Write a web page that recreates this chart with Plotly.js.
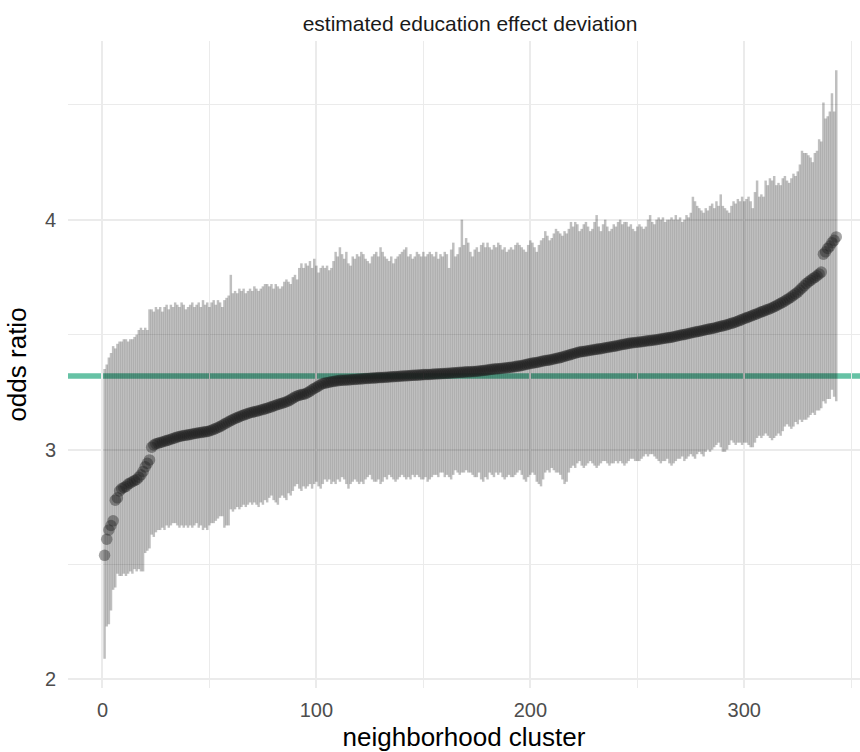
<!DOCTYPE html>
<html>
<head>
<meta charset="utf-8">
<script src="https://cdn.plot.ly/plotly-3.0.1.min.js"></script>
<style>
  html, body { margin: 0; padding: 0; background: #ffffff; }
  #plot { width: 860px; height: 752px; }
</style>
</head>
<body>
<div id="plot"></div>
<script>

// posterior median odds ratio per neighborhood cluster (sorted)
const median_or = [
  2.54,2.61,2.65,2.67,2.69,2.78,2.79,2.82,2.83,2.835,
  2.84,2.85,2.855,2.86,2.865,2.87,2.88,2.89,2.905,2.925,
  2.94,2.955,3.01,3.02,3.025,3.028,3.031,3.033,3.036,3.039,
  3.042,3.045,3.048,3.051,3.055,3.057,3.059,3.061,3.062,3.064,
  3.066,3.068,3.070,3.071,3.073,3.074,3.076,3.077,3.079,3.081,
  3.084,3.088,3.092,3.096,3.100,3.106,3.111,3.116,3.121,3.126,
  3.131,3.135,3.139,3.143,3.147,3.150,3.154,3.157,3.160,3.162,
  3.165,3.167,3.169,3.172,3.174,3.177,3.180,3.183,3.186,3.190,
  3.193,3.196,3.199,3.202,3.205,3.208,3.212,3.217,3.223,3.229,
  3.233,3.236,3.239,3.241,3.243,3.248,3.254,3.260,3.266,3.271,
  3.277,3.282,3.287,3.289,3.291,3.293,3.295,3.296,3.298,3.299,
  3.301,3.302,3.302,3.303,3.303,3.304,3.305,3.305,3.306,3.307,
  3.307,3.308,3.309,3.309,3.310,3.311,3.311,3.312,3.313,3.313,
  3.314,3.315,3.315,3.316,3.317,3.317,3.318,3.318,3.319,3.320,
  3.320,3.321,3.321,3.322,3.323,3.323,3.324,3.324,3.325,3.326,
  3.326,3.327,3.327,3.328,3.329,3.329,3.330,3.330,3.331,3.331,
  3.332,3.332,3.333,3.334,3.334,3.335,3.336,3.336,3.337,3.338,
  3.338,3.339,3.340,3.340,3.341,3.342,3.343,3.344,3.345,3.346,
  3.348,3.349,3.350,3.351,3.352,3.353,3.354,3.355,3.356,3.357,
  3.358,3.359,3.361,3.363,3.364,3.366,3.368,3.370,3.372,3.374,
  3.376,3.378,3.379,3.381,3.383,3.385,3.387,3.388,3.390,3.392,
  3.394,3.396,3.398,3.400,3.403,3.406,3.408,3.411,3.414,3.417,
  3.419,3.422,3.424,3.426,3.427,3.429,3.430,3.432,3.433,3.435,
  3.436,3.438,3.439,3.441,3.443,3.444,3.446,3.447,3.449,3.451,
  3.453,3.455,3.457,3.458,3.460,3.462,3.464,3.465,3.466,3.467,
  3.468,3.469,3.470,3.472,3.473,3.474,3.476,3.477,3.478,3.480,
  3.481,3.483,3.484,3.486,3.487,3.489,3.491,3.493,3.495,3.497,
  3.499,3.501,3.503,3.505,3.507,3.509,3.511,3.513,3.515,3.517,
  3.519,3.521,3.523,3.525,3.527,3.529,3.531,3.534,3.536,3.538,
  3.541,3.543,3.546,3.549,3.552,3.555,3.558,3.562,3.566,3.570,
  3.573,3.577,3.580,3.584,3.588,3.591,3.595,3.599,3.602,3.606,
  3.609,3.613,3.617,3.621,3.626,3.631,3.636,3.641,3.646,3.652,
  3.658,3.664,3.671,3.678,3.685,3.694,3.703,3.712,3.722,3.729,
  3.736,3.743,3.749,3.756,3.764,3.772,3.850,3.860,3.875,3.885,
  3.900,3.910,3.925
]

// lower end of the interval
const lower_or = [
  2.09,2.23,2.24,2.30,2.39,2.40,2.46,2.45,2.45,2.46,
  2.45,2.46,2.47,2.46,2.48,2.47,2.48,2.47,2.47,2.55,
  2.56,2.57,2.63,2.62,2.64,2.65,2.65,2.66,2.65,2.67,
  2.66,2.67,2.68,2.68,2.67,2.66,2.67,2.66,2.67,2.66,
  2.67,2.66,2.67,2.68,2.66,2.67,2.65,2.66,2.65,2.67,
  2.68,2.68,2.69,2.70,2.71,2.71,2.66,2.67,2.67,2.74,
  2.73,2.74,2.75,2.74,2.75,2.76,2.75,2.76,2.77,2.76,
  2.77,2.76,2.75,2.77,2.76,2.78,2.77,2.79,2.80,2.78,
  2.77,2.76,2.79,2.80,2.79,2.78,2.81,2.80,2.82,2.84,
  2.85,2.83,2.82,2.84,2.83,2.84,2.85,2.83,2.85,2.86,
  2.84,2.83,2.85,2.87,2.86,2.87,2.85,2.86,2.85,2.87,
  2.86,2.88,2.87,2.85,2.83,2.85,2.86,2.87,2.86,2.85,
  2.86,2.85,2.87,2.88,2.89,2.87,2.86,2.86,2.87,2.85,
  2.86,2.88,2.87,2.89,2.88,2.87,2.86,2.87,2.88,2.89,
  2.88,2.87,2.88,2.87,2.89,2.88,2.89,2.88,2.87,2.87,
  2.88,2.86,2.87,2.88,2.89,2.89,2.88,2.90,2.90,2.88,
  2.89,2.88,2.87,2.89,2.91,2.90,2.89,2.90,2.90,2.91,
  2.90,2.90,2.89,2.88,2.88,2.90,2.87,2.86,2.88,2.87,
  2.90,2.89,2.88,2.90,2.89,2.90,2.88,2.87,2.88,2.89,
  2.88,2.88,2.89,2.90,2.91,2.89,2.87,2.86,2.88,2.89,
  2.90,2.89,2.86,2.85,2.84,2.87,2.90,2.91,2.90,2.92,
  2.91,2.90,2.90,2.89,2.87,2.85,2.86,2.90,2.92,2.93,
  2.92,2.94,2.95,2.93,2.92,2.93,2.94,2.95,2.94,2.93,
  2.92,2.93,2.94,2.95,2.95,2.94,2.93,2.94,2.94,2.95,
  2.94,2.95,2.94,2.93,2.94,2.95,2.96,2.96,2.95,2.95,
  2.95,2.96,2.97,2.98,2.97,2.98,2.98,2.97,2.96,2.95,
  2.94,2.95,2.95,2.96,2.94,2.93,2.94,2.95,2.96,2.96,
  2.97,2.95,2.96,2.97,2.98,2.97,2.96,2.98,2.99,2.98,
  2.97,2.99,3.00,2.99,3.00,3.01,3.02,3.03,3.01,2.99,
  2.99,3.00,3.02,3.04,3.03,3.02,3.03,3.03,3.02,3.03,
  3.03,3.02,3.01,3.01,3.03,3.05,3.06,3.05,3.06,3.07,
  3.06,3.05,3.04,3.05,3.06,3.07,3.06,3.08,3.10,3.11,
  3.10,3.09,3.10,3.12,3.11,3.13,3.12,3.13,3.13,3.14,
  3.15,3.16,3.15,3.17,3.17,3.18,3.21,3.20,3.22,3.22,
  3.26,3.23,3.21
]

// upper end of the interval
const upper_or = [
  3.35,3.37,3.40,3.42,3.45,3.44,3.46,3.47,3.47,3.48,
  3.48,3.47,3.48,3.48,3.49,3.50,3.52,3.53,3.52,3.53,
  3.52,3.61,3.61,3.60,3.62,3.61,3.62,3.60,3.62,3.63,
  3.61,3.63,3.62,3.64,3.63,3.62,3.64,3.63,3.61,3.62,
  3.63,3.64,3.62,3.63,3.64,3.62,3.65,3.63,3.64,3.62,
  3.64,3.65,3.63,3.65,3.64,3.62,3.65,3.66,3.67,3.76,
  3.68,3.69,3.68,3.70,3.69,3.70,3.68,3.69,3.70,3.69,
  3.71,3.70,3.69,3.70,3.71,3.72,3.72,3.71,3.72,3.70,
  3.72,3.71,3.70,3.71,3.73,3.74,3.73,3.72,3.75,3.76,
  3.74,3.79,3.81,3.79,3.81,3.80,3.82,3.79,3.83,3.80,
  3.77,3.79,3.80,3.79,3.80,3.78,3.79,3.82,3.86,3.84,
  3.88,3.85,3.83,3.86,3.81,3.80,3.84,3.83,3.85,3.84,
  3.86,3.85,3.83,3.82,3.81,3.84,3.85,3.86,3.84,3.88,
  3.86,3.84,3.83,3.82,3.84,3.81,3.83,3.84,3.85,3.86,
  3.87,3.88,3.84,3.85,3.83,3.84,3.86,3.85,3.84,3.86,
  3.84,3.85,3.86,3.85,3.84,3.86,3.83,3.85,3.84,3.86,
  3.85,3.79,3.87,3.90,3.84,3.85,3.88,4.00,3.89,3.92,
  3.90,3.86,3.84,3.87,3.88,3.86,3.89,3.90,3.88,3.90,
  3.88,3.87,3.89,3.88,3.90,3.89,3.87,3.88,3.86,3.87,
  3.88,3.87,3.89,3.90,3.89,3.88,3.87,3.86,3.89,3.91,
  3.90,3.88,3.86,3.89,3.91,3.92,3.95,3.93,3.91,3.92,
  3.94,3.96,3.95,3.94,3.93,3.95,3.94,3.96,3.99,3.97,
  3.99,3.98,3.95,3.96,3.98,3.99,3.97,3.95,3.96,3.99,
  4.02,3.97,3.95,3.98,4.00,3.97,3.95,3.96,3.98,3.97,
  3.99,4.00,3.98,3.99,3.99,3.97,3.98,3.96,3.95,3.97,
  3.98,3.97,3.96,3.97,4.00,4.02,3.99,3.98,4.00,4.01,
  4.00,4.01,3.99,4.00,4.00,4.01,4.00,4.02,4.00,4.01,
  3.99,4.00,4.02,4.01,4.03,4.10,4.08,4.06,4.05,4.04,
  4.03,4.05,4.04,4.06,4.07,4.05,4.08,4.06,4.11,4.06,
  4.05,4.04,4.03,4.06,4.08,4.07,4.09,4.08,4.10,4.08,
  4.09,4.10,4.08,4.05,4.12,4.17,4.10,4.11,4.10,4.17,
  4.15,4.18,4.17,4.19,4.15,4.16,4.15,4.18,4.19,4.17,
  4.16,4.18,4.20,4.19,4.21,4.24,4.30,4.29,4.29,4.28,
  4.27,4.25,4.29,4.30,4.35,4.34,4.51,4.44,4.45,4.47,
  4.55,4.47,4.65
]

// overall education effect (horizontal reference)
const overall_or = 3.32

const x_ticks = [0, 100, 200, 300]
const x_minor = [50, 150, 250, 350]
const y_ticks = [2, 3, 4]
const y_minor = [2.5, 3.5, 4.5]

// cluster number 1..N, in sorted order
const cluster = median_or.map((v, i) => i + 1)

const font_family = '"Liberation Sans", Arial, Helvetica, sans-serif'
const grid_color = '#ebebeb'

function draw() {

    let data = []

    // intervals as error bars, medians as translucent points on top
    data.push({
        type: 'scatter', mode: 'markers',
        x: cluster, y: median_or,
        error_y: {
            type: 'data', symmetric: false,
            array: upper_or.map((u, i) => u - median_or[i]),
            arrayminus: lower_or.map((l, i) => median_or[i] - l),
            width: 0, thickness: 2.5, color: 'rgba(0,0,0,0.25)'
        },
        marker: { size: 11.5, color: 'rgba(30,30,30,0.4)', line: { width: 0 } },
        hoverinfo: 'none', showlegend: false
    })

    let layout = {
        width: 860, height: 752,
        margin: { l: 68, r: 0, t: 41, b: 64 },
        paper_bgcolor: '#ffffff', plot_bgcolor: '#ffffff',
        font: { family: font_family, color: '#4d4d4d' },
        title: {
            text: 'estimated education effect deviation',
            font: { size: 21, color: '#1a1a1a', family: font_family },
            x: 470 / 860, xanchor: 'center', xref: 'container',
            y: 1 - 24 / 752, yanchor: 'middle', yref: 'container'
        },
        xaxis: {
            range: [-16.1, 354.1],
            tickvals: x_ticks, ticktext: x_ticks.map(String),
            ticks: '', tickfont: { size: 20, color: '#4d4d4d' },
            ticklabelstandoff: 8,
            showgrid: true, gridcolor: grid_color, gridwidth: 2,
            minor: { tickvals: x_minor, showgrid: true, gridcolor: grid_color, gridwidth: 1.2, ticks: '' },
            zeroline: false, showline: false,
            title: { text: 'neighborhood cluster', font: { size: 26, color: '#000000' }, standoff: 10 },
            automargin: false
        },
        yaxis: {
            range: [1.963, 4.777],
            tickvals: y_ticks, ticktext: y_ticks.map(String),
            ticks: '', tickfont: { size: 20, color: '#4d4d4d' },
            ticklabelstandoff: 11,
            showgrid: true, gridcolor: grid_color, gridwidth: 2,
            minor: { tickvals: y_minor, showgrid: true, gridcolor: grid_color, gridwidth: 1.2, ticks: '' },
            zeroline: false, showline: false,
            title: { text: 'odds ratio', font: { size: 26, color: '#000000' }, standoff: 10 },
            automargin: false
        },
        shapes: [{
            type: 'line', xref: 'paper', x0: 0, x1: 1,
            yref: 'y', y0: overall_or, y1: overall_or,
            line: { color: '#66c2a5', width: 5.5 },
            layer: 'between'
        }]
    }

    Plotly.newPlot(document.getElementById('plot'), data, layout, { displaylogo: false, displayModeBar: false, staticPlot: true })
}

draw()
</script>
</body>
</html>
